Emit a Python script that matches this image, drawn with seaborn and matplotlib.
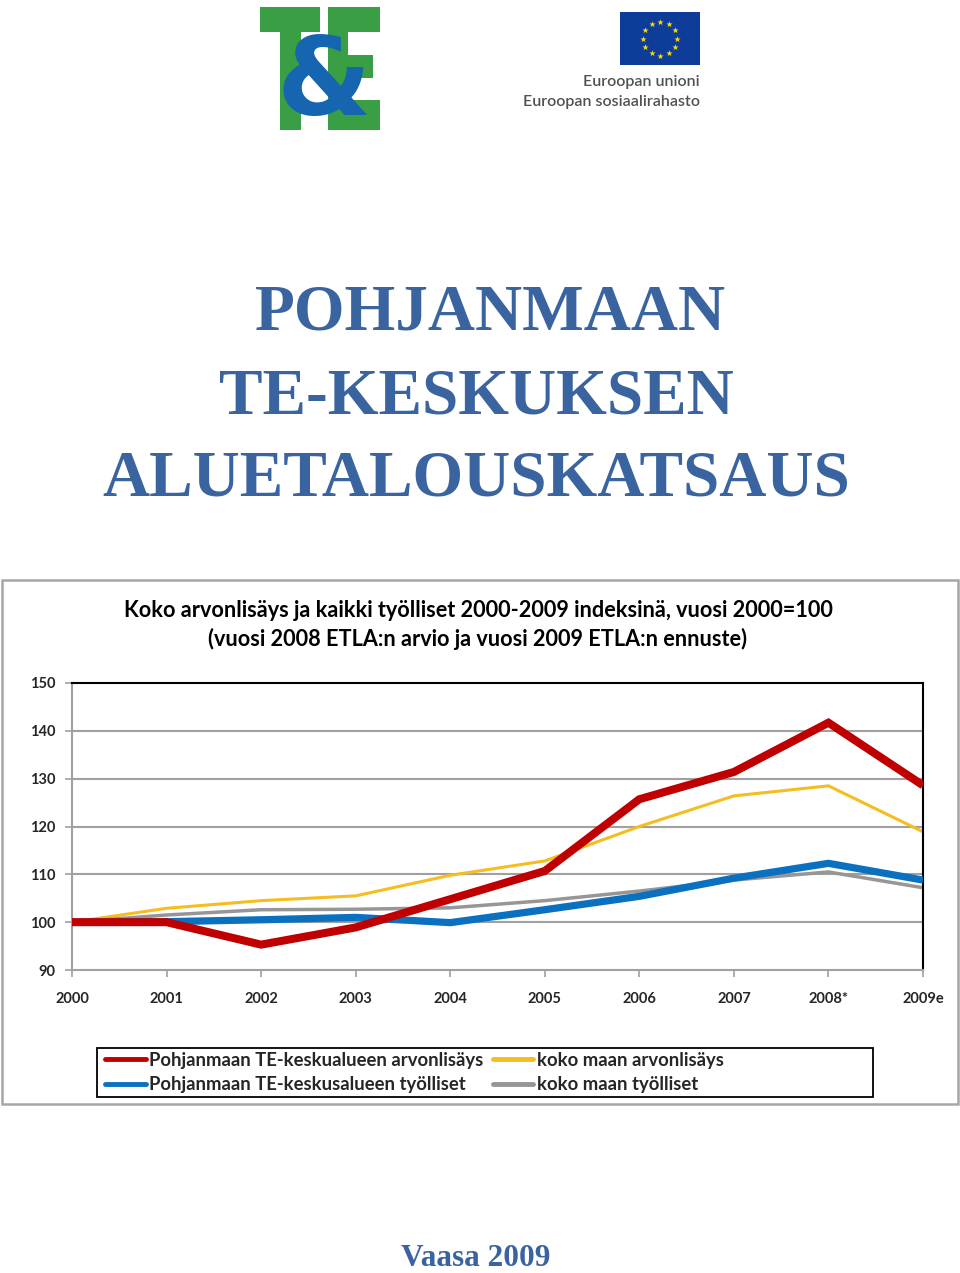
import numpy as np
import pandas as pd
import matplotlib
matplotlib.use('Agg')
import matplotlib.pyplot as plt
import seaborn as sns
from matplotlib.patches import Rectangle
from matplotlib.lines import Line2D

# ---------------- data ----------------
years = ['2000', '2001', '2002', '2003', '2004', '2005', '2006', '2007', '2008*', '2009e']
te_arvonlisays = [100.0, 100.0, 95.3, 98.9, 104.8, 110.7, 125.7, 131.4, 141.7, 128.6]
te_tyolliset = [100.0, 100.1, 100.5, 101.0, 99.9, 102.6, 105.4, 109.2, 112.3, 108.8]
koko_arvonlisays = [100.0, 102.9, 104.5, 105.5, 109.8, 112.8, 120.0, 126.4, 128.5, 118.9]
koko_tyolliset = [100.0, 101.5, 102.6, 102.7, 103.0, 104.5, 106.5, 108.8, 110.5, 107.2]
series_labels = ['Pohjanmaan TE-keskualueen arvonlisäys',
                 'Pohjanmaan TE-keskusalueen työlliset',
                 'koko maan arvonlisäys',
                 'koko maan työlliset']
y_ticks = [90, 100, 110, 120, 130, 140, 150]

chart_title = ('Koko arvonlisäys ja kaikki työlliset 2000-2009 indeksinä, vuosi 2000=100\n'
               '(vuosi 2008 ETLA:n arvio ja vuosi 2009 ETLA:n ennuste)')
page_title = ['POHJANMAAN', 'TE-KESKUKSEN', 'ALUETALOUSKATSAUS']

# ---------------- style ----------------
sns.set_theme(style='white')
plt.rcParams['font.family'] = ['Lato', 'DejaVu Sans']

W, H = 960, 1273
fig = plt.figure(figsize=(W / 100, H / 100), dpi=100)

bg = fig.add_axes([0, 0, 1, 1], zorder=0)
bg.set_xlim(0, W)
bg.set_ylim(H, 0)
bg.axis('off')

# ---- T&E logo ----
green = '#3a9e44'
for (x, y, w, h) in [(260, 7, 60, 25), (280, 7, 21, 123),
                     (328, 7, 20, 123), (328, 7, 52, 25),
                     (328, 55, 45, 23), (328, 100, 52, 30)]:
    bg.add_patch(Rectangle((x, y), w, h, facecolor=green, edgecolor='none'))
bg.text(324, 84, '&', fontsize=78, fontweight='heavy', color='#1565b0',
        ha='center', va='center', family=['DejaVu Sans'])

# ---- EU flag ----
bg.add_patch(Rectangle((620, 12), 80, 53, facecolor='#0d3d99', edgecolor='none'))
ang = np.deg2rad(np.arange(12) * 30)
bg.scatter(660 + 17 * np.cos(ang), 38.5 + 17 * np.sin(ang), marker='*', s=22,
           color='#ffdd00', linewidths=0, zorder=3)
bg.text(700, 82, 'Euroopan unioni', fontsize=11.5, color='#505153', ha='right', va='center',
        fontweight='semibold')
bg.text(700, 102, 'Euroopan sosiaalirahasto', fontsize=11.5, color='#505153', ha='right',
        va='center', fontweight='semibold')

# ---- page title ----
title_color = '#3a64a0'
for txt, xc, yc in zip(page_title, [491, 476, 476], [313, 397, 480]):
    bg.text(xc, yc, txt, fontsize=47, fontweight='bold', color=title_color,
            ha='center', va='center', family=['Liberation Serif'])

bg.text(476, 1259, 'Vaasa 2009', fontsize=22.5, fontweight='bold', color=title_color,
        ha='center', va='center', family=['Liberation Serif'])

# ---- chart box ----
bg.add_patch(Rectangle((2, 580), 956, 524, facecolor='white', edgecolor='#a6a6a6', lw=1.8))
bg.text(478, 625, chart_title, fontsize=15.6, fontweight='bold', color='black',
        ha='center', va='center', linespacing=1.4)

# ---- chart axes ----
ax = fig.add_axes([72 / W, 1 - 970 / H, 851 / W, 287 / H], zorder=2)
ax.set_facecolor('none')

df = pd.DataFrame({
    'year': years * 4,
    'value': te_arvonlisays + te_tyolliset + koko_arvonlisays + koko_tyolliset,
    'series': np.repeat(series_labels, len(years)),
})
styles = {
    series_labels[2]: ('#f5bd1f', 2.2, 1),
    series_labels[3]: ('#969696', 2.5, 2),
    series_labels[1]: ('#0a70c0', 5.2, 3),
    series_labels[0]: ('#c00000', 5.8, 4),
}
for name in [series_labels[2], series_labels[3], series_labels[1], series_labels[0]]:
    color, lw, z = styles[name]
    sub = df[df['series'] == name]
    sns.lineplot(data=sub, x='year', y='value', ax=ax, color=color, linewidth=lw,
                 sort=False, legend=False, zorder=z)
for l in ax.lines:
    l.set_solid_joinstyle('miter')
    l.set_solid_capstyle('butt')

ax.set_xlim(0, len(years) - 1)
ax.set_ylim(90, 150)
ax.set_yticks(y_ticks)
ax.set_yticklabels([str(v) for v in y_ticks])
ax.set_xticks(range(len(years)))
ax.set_xticklabels(years)
ax.set_xlabel('')
ax.set_ylabel('')
for v in y_ticks[1:-1]:
    ax.axhline(v, color='#a0a0a0', lw=1.5, zorder=0.5)
ax.tick_params(axis='y', which='both', left=True, length=5, width=1.2, color='#a0a0a0',
               pad=7, labelsize=10.5)
ax.tick_params(axis='x', which='both', bottom=True, length=5, width=1.2, color='#a0a0a0',
               pad=11, labelsize=10.5)
for lab in ax.get_xticklabels() + ax.get_yticklabels():
    lab.set_fontweight('bold')
for s in ['left', 'bottom']:
    ax.spines[s].set_color('#a0a0a0')
    ax.spines[s].set_linewidth(1.5)
for s in ['top', 'right']:
    ax.spines[s].set_color('black')
    ax.spines[s].set_linewidth(1.5)

# ---- legend ----
bg.add_patch(Rectangle((97, 1048), 776, 49, facecolor='white', edgecolor='black', lw=1.3, zorder=3))
handles = [Line2D([], [], color=styles[n][0], lw=3.5) for n in series_labels]
leg = bg.legend(handles, series_labels, loc='center left', bbox_to_anchor=(92, 1072.5),
                bbox_transform=bg.transData, ncol=2, frameon=False, fontsize=13.3,
                handlelength=2.2, handletextpad=0.2, columnspacing=0.5, labelspacing=0.42,
                borderpad=0.2)
leg.set_zorder(4)
for t in leg.get_texts():
    t.set_fontweight('bold')

fig.savefig('out.png', dpi=100)
